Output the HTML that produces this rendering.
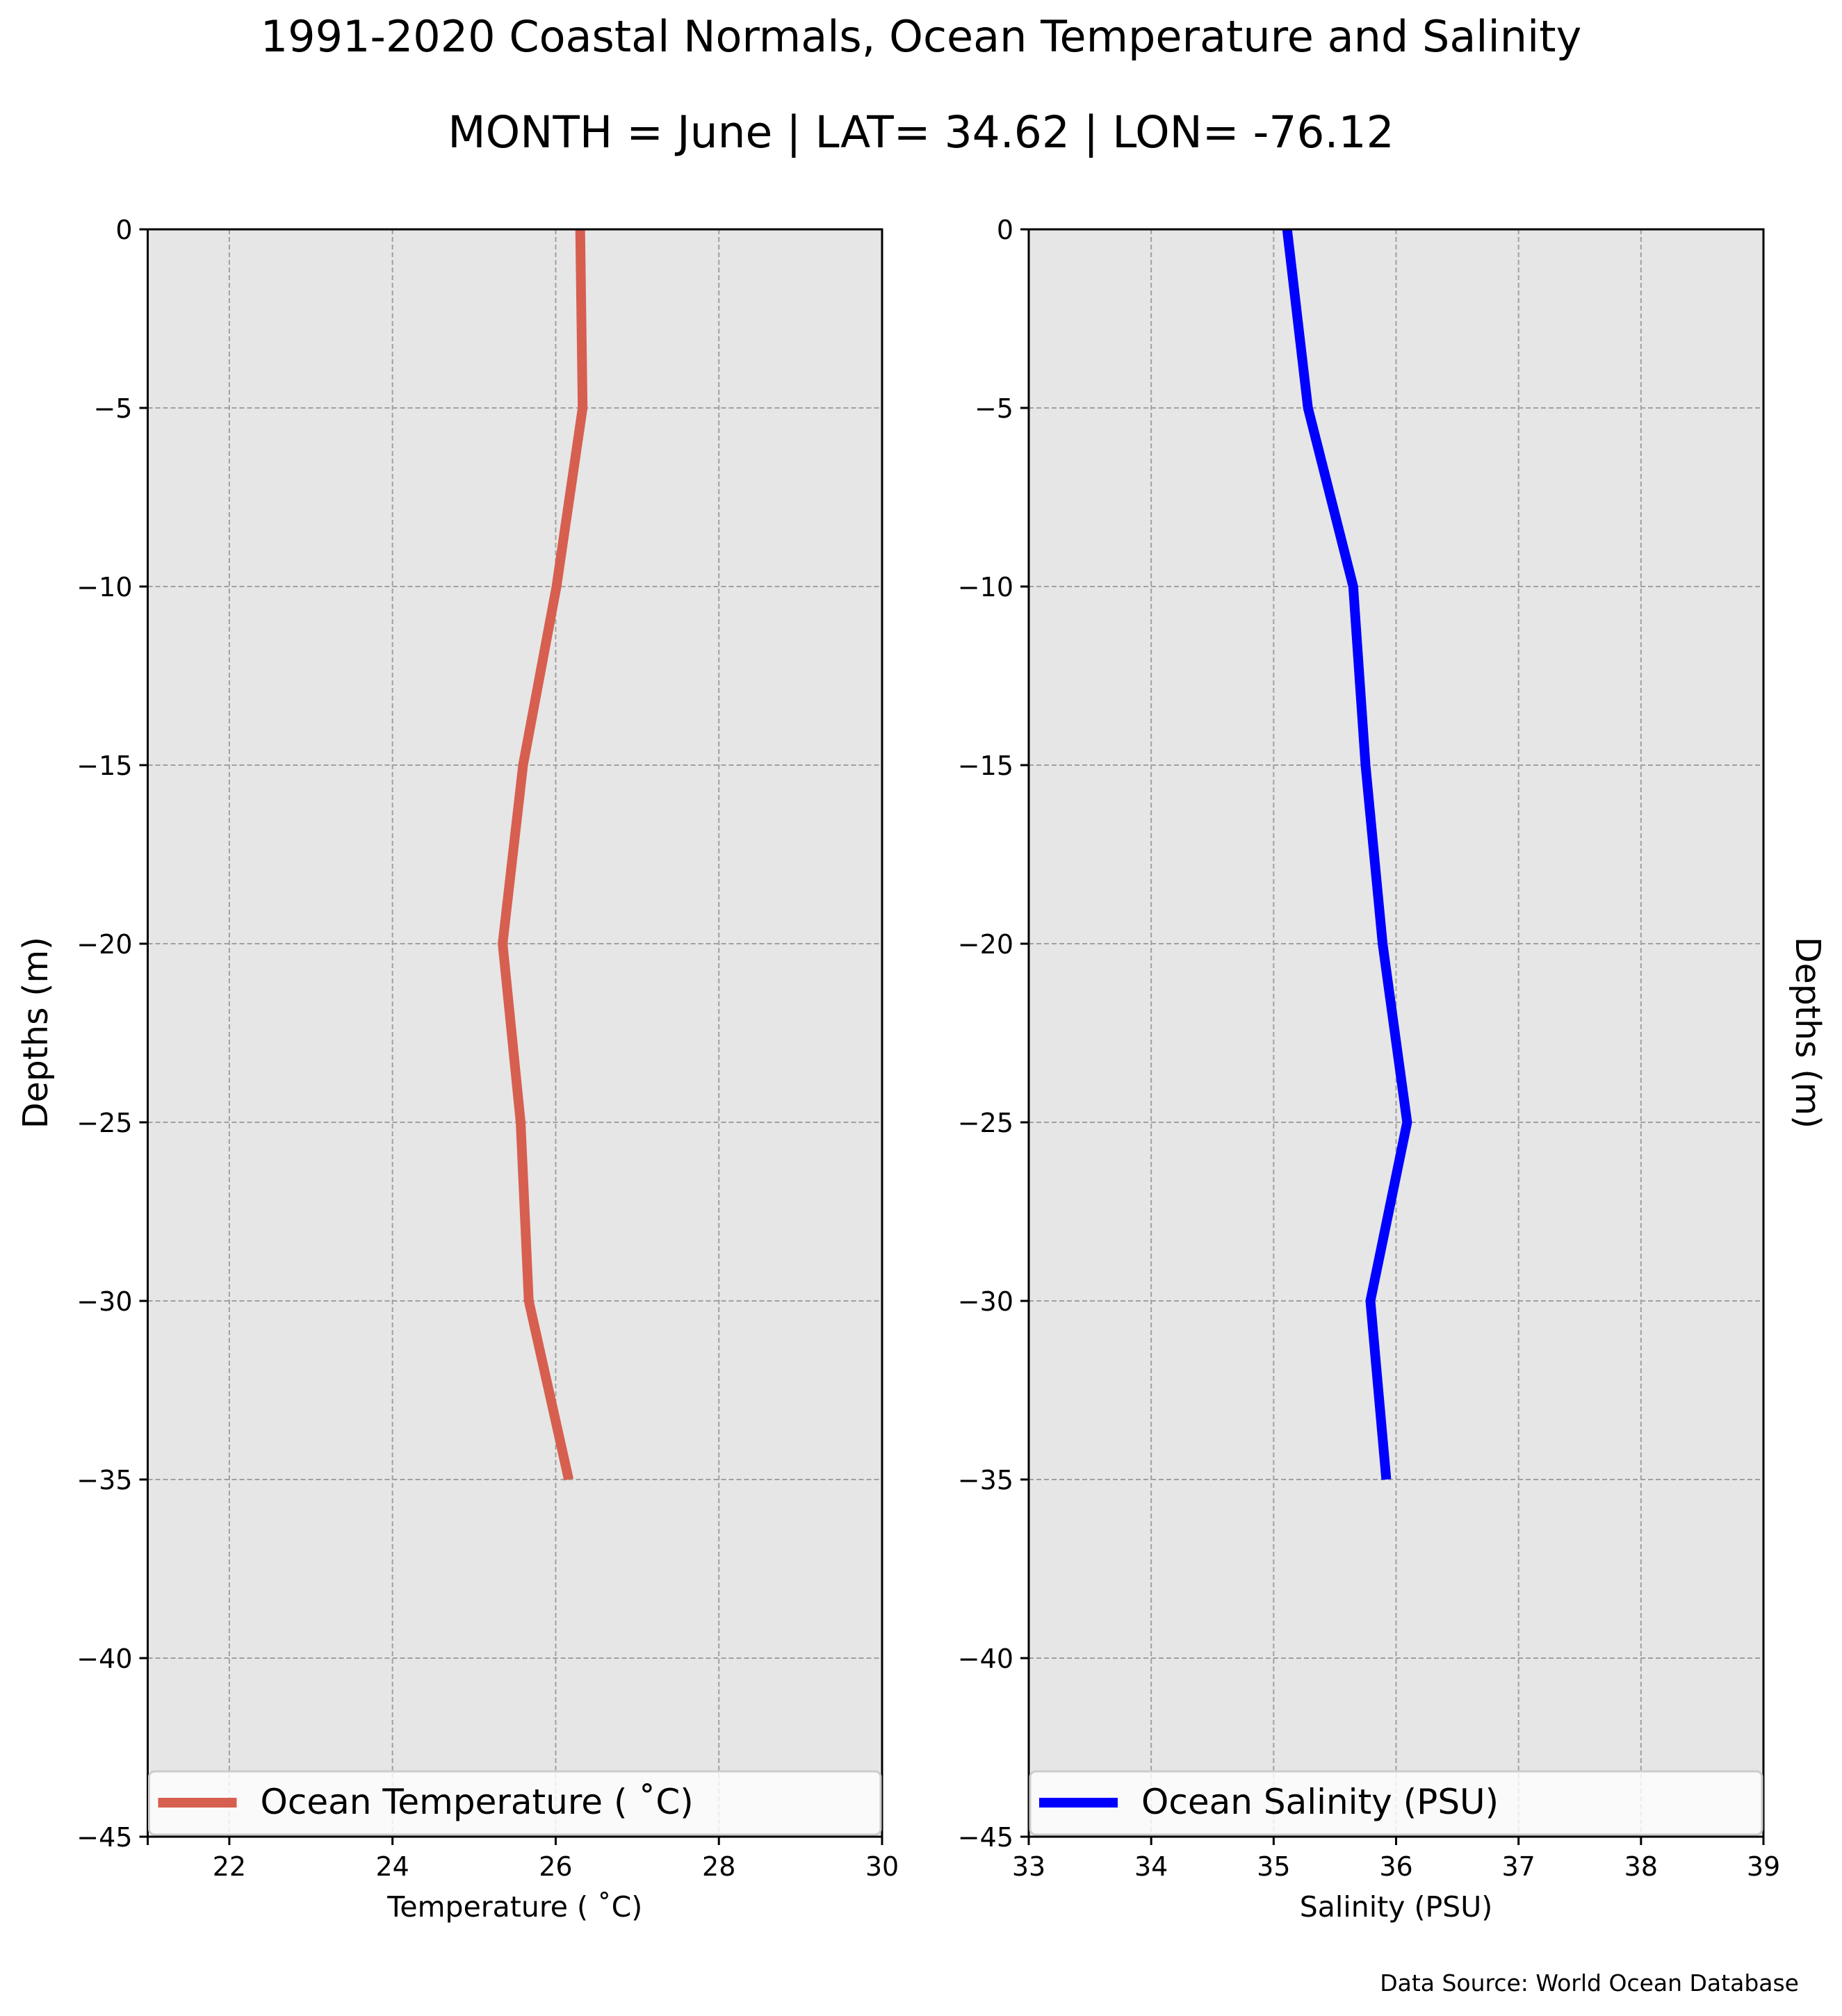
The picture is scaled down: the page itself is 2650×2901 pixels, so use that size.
<!DOCTYPE html>
<html><head><meta charset="utf-8"><style>
html,body{margin:0;padding:0;background:#fff;}
svg{display:block;font-family:"DejaVu Sans","Liberation Sans",sans-serif;}
</style></head><body>
<svg id="chart" width="2650" height="2901" viewBox="0 0 2650 2901">
<text x="1325" y="74" font-size="62" text-anchor="middle">1991-2020 Coastal Normals, Ocean Temperature and Salinity</text>
<text x="1325" y="212" font-size="63" text-anchor="middle">MONTH = June | LAT= 34.62 | LON= -76.12</text>
<text x="2588" y="2865" font-size="33" text-anchor="end">Data Source: World Ocean Database</text>
<g id="g"></g>
</svg>
<script>
const depths = [0, -5, -10, -15, -20, -25, -30, -35];
const temperature = [26.30, 26.33, 26.01, 25.60, 25.35, 25.57, 25.67, 26.16];
const salinity = [35.11, 35.28, 35.65, 35.75, 35.89, 36.09, 35.79, 35.92];
const yTicks = [0, -5, -10, -15, -20, -25, -30, -35, -40, -45];
const tempTicks = [22, 24, 26, 28, 30];
const salTicks = [33, 34, 35, 36, 37, 38, 39];

const NS = 'http://www.w3.org/2000/svg';
const root = document.getElementById('g');
function mk(tag, attrs, parent){
  const e = document.createElementNS(NS, tag);
  for (const k in attrs) e.setAttribute(k, attrs[k]);
  (parent||root).appendChild(e);
  return e;
}
const T = 330, B = 2643;
function yScale(d){ return T + (0 - d) / 45 * (B - T); }

function panel(opt){
  const L = opt.L, R = opt.R;
  const xs = v => L + (v - opt.xmin) / (opt.xmax - opt.xmin) * (R - L);
  const g = mk('g', {});
  
  
  const bg = mk('rect', {x:L, y:T, width:R-L, height:B-T, fill:'#e6e6e6'}, g);
  
  
  opt.xticks.forEach(v => {
    const gl = mk('line', {x1:xs(v), x2:xs(v), y1:T, y2:B, stroke:'#a0a0a0', 'stroke-width':2, 'stroke-dasharray':'7,4'}, g);
    
    
  });
  yTicks.forEach(v => {
    const gl = mk('line', {x1:L, x2:R, y1:yScale(v), y2:yScale(v), stroke:'#a0a0a0', 'stroke-width':2, 'stroke-dasharray':'7,4'}, g);
    
    
  });
  const pts = depths.map((d,i) => xs(opt.values[i]).toFixed(1) + ',' + yScale(d).toFixed(1)).join(' ');
  const pl = mk('polyline', {points:pts, fill:'none', stroke:opt.color, 'stroke-width':14, 'stroke-linejoin':'miter'}, g);
  
  
  const sp = mk('rect', {x:L, y:T, width:R-L, height:B-T, fill:'none', stroke:'#000', 'stroke-width':3}, g);
  
  
  opt.xticks.forEach(v => {
    const tk = mk('line', {x1:xs(v), x2:xs(v), y1:B, y2:B+12, stroke:'#000', 'stroke-width':3}, g);
    
    
    const tl = mk('text', {x:xs(v), y:B+56, 'font-size':38, 'text-anchor':'middle'}, g);
    tl.textContent = v;
    
    
  });
  if (opt.minorLeft){
    const tk = mk('line', {x1:L, x2:L, y1:B, y2:B+12, stroke:'#000', 'stroke-width':3}, g);
    
    
  }
  yTicks.forEach(v => {
    const tk = mk('line', {x1:L-12, x2:L, y1:yScale(v), y2:yScale(v), stroke:'#000', 'stroke-width':3}, g);
    
    
    const tl = mk('text', {x:L-22, y:yScale(v)+14, 'font-size':38, 'text-anchor':'end'}, g);
    tl.textContent = v === 0 ? '0' : '\u2212' + Math.abs(v);
    
    
  });
  const xl = mk('text', {x:(L+R)/2, y:2758, 'font-size':41, 'text-anchor':'middle'}, g);
  xl.textContent = opt.xlabel;
  
  
  const lg = mk('g', {}, g);
  
  
  mk('rect', {x:L+2, y:2549, width:R-L-4, height:91, rx:8, fill:'#ffffff', 'fill-opacity':0.8, stroke:'#cccccc', 'stroke-width':3}, lg);
  mk('line', {x1:L+15, x2:L+128, y1:2594, y2:2594, stroke:opt.color, 'stroke-width':14}, lg);
  const lt = mk('text', {x:L+162, y:2610, 'font-size':50}, lg);
  lt.textContent = opt.legend;
  
  
}

panel({name:'temperature', L:212.5, R:1269, xmin:21, xmax:30, xticks:tempTicks, values:temperature, color:'#d75f4f', xlabel:'Temperature ( \u02DAC)', legend:'Ocean Temperature ( \u02DAC)', minorLeft:true});
panel({name:'salinity', L:1480, R:2537, xmin:33, xmax:39, xticks:salTicks, values:salinity, color:'#0000ff', xlabel:'Salinity (PSU)', legend:'Ocean Salinity (PSU)', minorLeft:false});

const yl = mk('text', {x:0, y:0, 'font-size':49, 'text-anchor':'middle', transform:'translate(68,1486) rotate(-90)'});
yl.textContent = 'Depths (m)';


const yr = mk('text', {x:0, y:0, 'font-size':49, 'text-anchor':'middle', transform:'translate(2584,1486) rotate(90)'});
yr.textContent = 'Depths (m)';


</script>
</body></html>
